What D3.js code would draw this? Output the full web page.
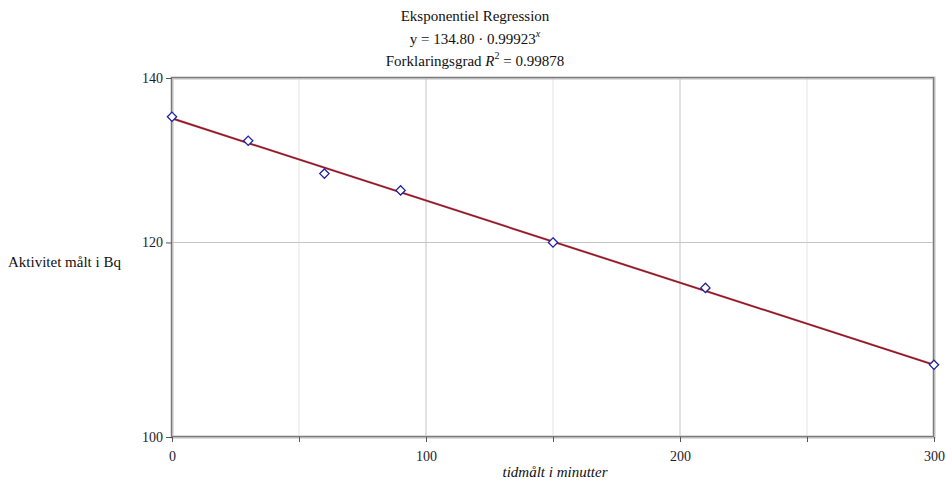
<!DOCTYPE html>
<html>
<head>
<meta charset="utf-8">
<script src="https://cdn.jsdelivr.net/npm/d3@7"></script>
<style>
  body { margin: 0; background: #fff; }
</style>
</head>
<body>
<div id="chart"></div>
<script>
// Measured points (time in minutes, activity in Bq)
const timeMin = [0, 30, 60, 90, 150, 210, 300];
const activityBq = [135, 132, 128, 126, 120, 115, 107];

// Regression line end points
const fitX = [0, 300];
const fitY = [134.8, 107.0];

const xTicks = [0, 100, 200, 300];
const xMinorTicks = [50, 150, 250];
const yTicks = [100, 120, 140];

const width = 946, height = 481;
const plotLeft = 172, plotRight = 934, plotTop = 78, plotBottom = 437;
const serif = "'Liberation Serif', 'Times New Roman', 'DejaVu Serif', serif";

const svg = d3.select("#chart").append("svg")
  .attr("width", width)
  .attr("height", height)
  .attr("font-family", serif);

const x = d3.scaleLinear().domain([0, 300]).range([plotLeft, plotRight]);
const y = d3.scaleLog().domain([100, 140]).range([plotBottom, plotTop]);

// Grid lines
svg.append("g")
  .selectAll("line")
  .data(xMinorTicks)
  .enter()
  .append("line")
  .attr("x1", d => x(d)).attr("x2", d => x(d))
  .attr("y1", plotTop).attr("y2", plotBottom)
  .attr("stroke", "#e4e4e4");

svg.append("g")
  .selectAll("line")
  .data([100, 200])
  .enter()
  .append("line")
  .attr("x1", d => x(d)).attr("x2", d => x(d))
  .attr("y1", plotTop).attr("y2", plotBottom)
  .attr("stroke", "#c4c4c4");

svg.append("line")
  .attr("x1", plotLeft).attr("x2", plotRight)
  .attr("y1", y(120)).attr("y2", y(120))
  .attr("stroke", "#c4c4c4");

// Frame
svg.append("rect")
  .attr("x", plotLeft).attr("y", plotTop)
  .attr("width", plotRight - plotLeft).attr("height", plotBottom - plotTop)
  .attr("fill", "none")
  .attr("stroke", "#bdbdbd")
  .attr("stroke-width", 3);
svg.append("rect")
  .attr("x", plotLeft - 0.5).attr("y", plotTop - 0.5)
  .attr("width", plotRight - plotLeft).attr("height", plotBottom - plotTop)
  .attr("fill", "none")
  .attr("stroke", "#7a7a7a")
  .attr("stroke-width", 1);

// Axes
const xAxis = svg.append("g")
  .attr("transform", `translate(0,${plotBottom})`)
  .call(d3.axisBottom(x).tickValues(xTicks.concat(xMinorTicks)).tickSize(5)
    .tickFormat(d => xTicks.includes(d) ? d : ""));
xAxis.attr("font-family", serif).attr("font-size", 14);
xAxis.select(".domain").remove();
xAxis.selectAll("line").attr("stroke", "#555");
xAxis.selectAll("text")
  .attr("dy", "1.15em")
  .attr("fill", "#1c1c30");

const yAxis = svg.append("g")
  .attr("transform", `translate(${plotLeft},0)`)
  .call(d3.axisLeft(y).tickValues(yTicks).tickSize(6).tickFormat(d3.format("d")));
yAxis.attr("font-family", serif).attr("font-size", 14);
yAxis.select(".domain").remove();
yAxis.selectAll("line").attr("stroke", "#555");
yAxis.selectAll("text")
  .attr("x", -9)
  .attr("fill", "#1c1c30");

// Regression line
const line = d3.line().x(d => x(d[0])).y(d => y(d[1]));
const fitData = fitX.map((v, i) => [v, fitY[i]]);
svg.append("path")
  .datum(fitData)
  .attr("d", line)
  .attr("fill", "none")
  .attr("stroke", "#c06070")
  .attr("stroke-width", 2.2);
svg.append("path")
  .datum(fitData)
  .attr("d", line)
  .attr("fill", "none")
  .attr("stroke", "#8a1420")
  .attr("stroke-width", 1.2);

// Data points as hollow diamonds
svg.append("g")
  .selectAll("path")
  .data(timeMin.map((t, i) => [t, activityBq[i]]))
  .enter()
  .append("path")
  .attr("transform", d => `translate(${x(d[0])},${y(d[1])})`)
  .attr("d", d3.symbol().type(d3.symbolDiamond2).size(55))
  .attr("fill", "#fff")
  .attr("stroke", "#2020a0")
  .attr("stroke-width", 1.3);

// Titles
svg.append("text")
  .attr("x", 475).attr("y", 21)
  .attr("text-anchor", "middle")
  .attr("font-size", 15)
  .attr("fill", "#111")
  .text("Eksponentiel Regression");

const t2 = svg.append("text")
  .attr("x", 475).attr("y", 44)
  .attr("text-anchor", "middle")
  .attr("font-size", 15)
  .attr("fill", "#111");
t2.append("tspan").text("y = 134.80 \u00b7 0.99923");
t2.append("tspan").attr("dy", -7).attr("font-size", 10).attr("font-style", "italic").text("x");

const t3 = svg.append("text")
  .attr("x", 475).attr("y", 66)
  .attr("text-anchor", "middle")
  .attr("font-size", 15)
  .attr("fill", "#111");
t3.append("tspan").text("Forklaringsgrad ");
t3.append("tspan").attr("font-style", "italic").text("R");
t3.append("tspan").attr("dy", -7).attr("font-size", 10).text("2");
t3.append("tspan").attr("dy", 7).text(" = 0.99878");

// Axis labels
svg.append("text")
  .attr("x", 8).attr("y", 267)
  .attr("font-size", 15)
  .attr("fill", "#111")
  .text("Aktivitet målt i Bq");

svg.append("text")
  .attr("x", 555).attr("y", 477)
  .attr("text-anchor", "middle")
  .attr("font-size", 15)
  .attr("font-style", "italic")
  .attr("fill", "#111")
  .text("tidmålt i minutter");
</script>
</body>
</html>
